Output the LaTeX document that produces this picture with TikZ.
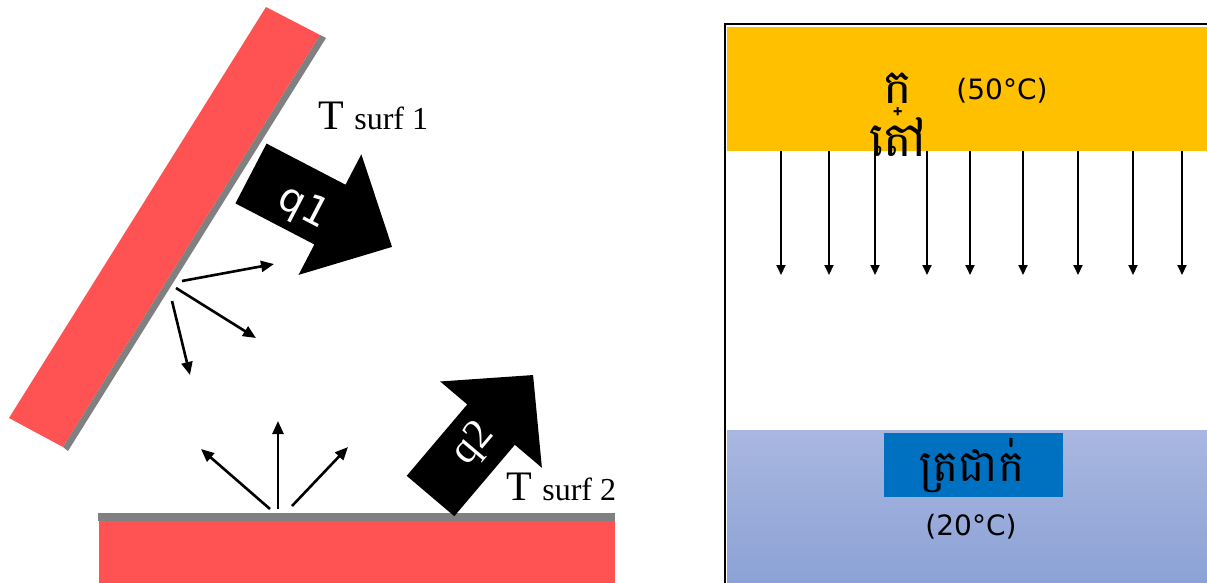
\documentclass[tikz,border=0pt]{standalone}
\usepackage{fontspec}
\setmainfont{Liberation Serif}
\newfontfamily\khmerfont[Script=Khmer]{Battambang}
\newfontfamily\labelfont{DejaVu Sans}
\usetikzlibrary{arrows.meta}

\definecolor{slabred}{HTML}{FF5252}
\definecolor{slabgray}{HTML}{808080}
\definecolor{hotyellow}{HTML}{FFC000}
\definecolor{coldtop}{HTML}{A9B7E0}
\definecolor{coldbottom}{HTML}{8CA2D6}
\definecolor{coldbox}{HTML}{0070C0}

\tikzset{
  rayarrow/.style={line width=2.6pt, -{Triangle[length=13pt,width=11pt]}},
  fluxarrow/.style={line width=2pt, -{Triangle[length=10pt,width=9pt]}},
  heatlabel/.style={text=white, font=\labelfont\fontsize{40}{40}\selectfont, inner sep=0pt},
  surflabel/.style={anchor=base west, inner sep=0pt},
  templabel/.style={font=\labelfont\fontsize{28}{28}\selectfont, inner sep=0pt},
  khmerlabel/.style={font=\khmerfont\fontsize{48}{48}\selectfont, inner sep=0pt}
}

\begin{document}
\begin{tikzpicture}[x=1pt,y=-1pt]
\useasboundingbox (0,0) rectangle (1207,583);

% ---------- tilted surface 1 ----------
\fill[slabred]  (266,7) -- (320,35) -- (63,447) -- (9,418) -- cycle;
\fill[slabgray] (320,35) -- (326,38) -- (68,451) -- (63,447) -- cycle;

% ---------- horizontal surface 2 ----------
\fill[slabgray] (98,513) rectangle (615,521);
\fill[slabred]  (99,521) rectangle (615,583);

% ---------- heat flux block arrows ----------
\begin{scope}[shift={(251,173.5)}, rotate=-27.5]
  \fill[black] (0,-33.7) -- (89,-33.7) -- (89,-68) -- (159,0)
               -- (89,68) -- (89,33.7) -- (0,33.7) -- cycle;
\end{scope}
\node[heatlabel, rotate=-27.5] (q1) at (303,208) {q1};

\begin{scope}[shift={(430.5,496)}, rotate=49.7]
  \fill[black] (0,-31.2) -- (93.6,-31.2) -- (93.6,-66.7) -- (158.6,0)
               -- (93.6,66.7) -- (93.6,31.2) -- (0,31.2) -- cycle;
\end{scope}
\node[heatlabel, font=\rmfamily\fontsize{42}{42}\selectfont, rotate=49.7] (q2) at (474,444) {q2};

% ---------- surface temperature labels ----------
\node[surflabel] (ts1) at (318,130) {\fontsize{42}{42}\selectfont T \fontsize{32}{32}\selectfont surf 1};
\node[surflabel] (ts2) at (506,500) {\fontsize{42}{42}\selectfont T \fontsize{32}{32}\selectfont surf 2};

% ---------- emitted rays ----------
\coordinate (r1s) at (182,281); \coordinate (r1e) at (274,264);
\coordinate (r2s) at (176,288); \coordinate (r2e) at (256,338);
\coordinate (r3s) at (172,301); \coordinate (r3e) at (190,375);
\draw[rayarrow] (r1s) -- (r1e);
\draw[rayarrow] (r2s) -- (r2e);
\draw[rayarrow] (r3s) -- (r3e);

\coordinate (b1s) at (270,509); \coordinate (b1e) at (201,449);
\coordinate (b2s) at (278,509); \coordinate (b2e) at (278,421);
\coordinate (b3s) at (292,506); \coordinate (b3e) at (348,447);
\draw[rayarrow] (b1s) -- (b1e);
\draw[rayarrow] (b2s) -- (b2e);
\draw[rayarrow] (b3s) -- (b3e);

% ---------- conduction panel ----------
\fill[hotyellow] (727,27) rectangle (1207,151);
\shade[top color=coldtop, bottom color=coldbottom] (727,430) rectangle (1207,583);
\draw[line width=2pt] (725,583) -- (725,24) -- (1207,24);

\foreach \x [count=\i] in {781,829,875,927,970,1023,1078,1133,1182}{
  \coordinate (f\i s) at (\x,151);
  \coordinate (f\i e) at (\x,275);
  \draw[fluxarrow] (f\i s) -- (f\i e);
}

\node[khmerlabel] (hot1) at (898,94) {ក្};
\node[khmerlabel] (hot2) at (898,137) {តៅ};
\node[templabel] (hott) at (1002,91) {(50°C)};

\node[fill=coldbox, minimum width=179pt, minimum height=64pt, inner sep=0pt] (coldbg) at (973.5,465) {};
\node[khmerlabel, font=\khmerfont\fontsize{44}{44}\selectfont] (cold) at (972,466) {ត្រជាក់};
\node[templabel] (coldt) at (971,527) {(20°C)};
\end{tikzpicture}
\end{document}
